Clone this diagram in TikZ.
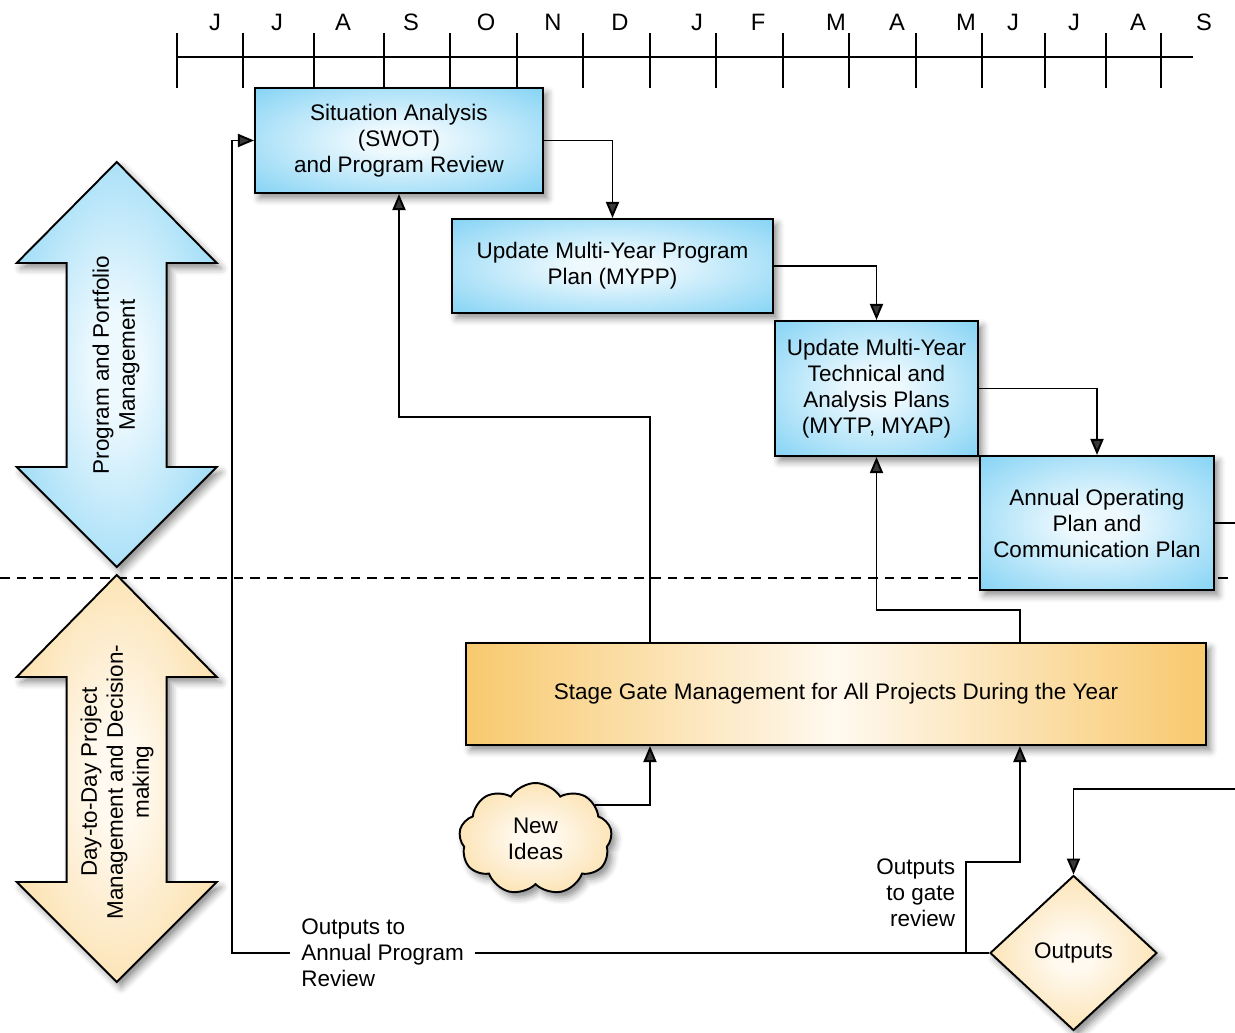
\documentclass[tikz,border=0pt]{standalone}
\usepackage{fontspec}
\setmainfont{Liberation Sans}
\usetikzlibrary{shapes.geometric,shapes.symbols,arrows.meta,positioning,shadows.blur}
\definecolor{pmblue}{HTML}{52C1F0}
\definecolor{pmpale}{HTML}{EEF9FE}
\definecolor{pmorange}{HTML}{F8C96E}
\definecolor{pmcream}{HTML}{FFF9EF}
\pgfdeclareradialshading{blueglow}{\pgfpoint{0bp}{0bp}}{color(0bp)=(pmpale); color(6bp)=(pmpale); color(50bp)=(pmblue)}
\pgfdeclareradialshading{orangeglow}{\pgfpoint{0bp}{0bp}}{color(0bp)=(pmcream); color(6bp)=(pmcream); color(50bp)=(pmorange)}

\begin{document}
\begin{tikzpicture}[
  x=0.02cm, y=-0.02cm,
  shade/.style={blur shadow={shadow xshift=2.5pt, shadow yshift=-3pt, shadow blur radius=4pt, shadow opacity=45}},
  planbox/.style={shade, draw=black, line width=1.2pt, shading=blueglow, align=center,
                  inner sep=2pt, font={\fontsize{12.8}{14.8}\selectfont}},
  gatebox/.style={shade, draw=black, line width=1.2pt, left color=pmorange, right color=pmorange,
                  middle color=pmcream, align=center, font={\fontsize{12.8}{14.8}\selectfont}},
  idea/.style={shade, cloud, cloud puffs=9, cloud puff arc=115, cloud ignores aspect, draw=black,
               line width=1.1pt, shading=orangeglow, align=center, font={\fontsize{12.8}{14.8}\selectfont}},
  outbox/.style={shade, diamond, draw=black, line width=1.1pt, shading=orangeglow, inner sep=0pt,
                 font={\fontsize{12.8}{14.8}\selectfont}},
  bigarrow/.style={shade, draw=black, line width=1.1pt},
  lbl/.style={inner sep=2pt, font={\fontsize{12.8}{14.8}\selectfont}},
  month/.style={inner sep=0pt, font={\fontsize{13.5}{15}\selectfont}},
  line/.style={line width=1.1pt},
  arr/.style={line, -{Triangle[length=0.32cm, width=0.26cm]}},
  divider/.style={line width=1pt, dash pattern=on 5.5pt off 4pt}
]
\useasboundingbox (0,0) rectangle (1235,1033);

% --- timeline ---
\draw[line] (177,57) -- (1193,57);
\foreach \x in {177,243,314,384,450,517,583,650,716,783,849,916,982,1045,1106,1161}
  \draw[line] (\x,33) -- (\x,88);
\foreach \x/\m [count=\i] in {215/J,277/J,343/A,411/S,486/O,553/N,620/D,697/J,758/F,836/M,897/A,966/M,1013/J,1074/J,1138/A,1204/S}
  \node[month] (m\i) at (\x,22) {\m};

% --- divider ---
\draw[divider] (0,578) -- (1235,578);

% --- side arrows ---
\path[bigarrow, shading=blueglow] (116.7,162) -- (216.7,263) -- (166.7,263) -- (166.7,467) -- (216.7,467)
  -- (116.7,567) -- (16.7,467) -- (66.7,467) -- (66.7,263) -- (16.7,263) -- cycle;
\node[lbl, rotate=90, align=center] (pmtext) at (116,365) {Program and Portfolio\\Management};
\path[bigarrow, shading=orangeglow] (116.7,575) -- (216.7,677) -- (166.7,677) -- (166.7,882) -- (216.7,882)
  -- (116.7,982) -- (16.7,882) -- (66.7,882) -- (66.7,677) -- (16.7,677) -- cycle;
\node[lbl, rotate=90, align=center] (pjtext) at (117,782) {Day-to-Day Project\\Management and Decision-\\making};

% --- planning boxes ---
\node[planbox, minimum width=5.76cm, minimum height=2.1cm] (sa) at (399,140.5)
  {Situation Analysis\\(SWOT)\\and Program Review};
\node[planbox, minimum width=6.42cm, minimum height=1.88cm] (mypp) at (612.5,266)
  {Update Multi-Year Program\\Plan (MYPP)};
\node[planbox, minimum width=4.06cm, minimum height=2.7cm] (mytp) at (876.5,388.5)
  {Update Multi-Year\\Technical and\\Analysis Plans\\(MYTP, MYAP)};
\node[planbox, minimum width=4.68cm, minimum height=2.68cm] (aop) at (1097,523)
  {Annual Operating\\Plan and\\Communication Plan};

% --- project level ---
\node[gatebox, minimum width=14.8cm, minimum height=2.04cm] (sg) at (836,694)
  {Stage Gate Management for All Projects During the Year};
\node[idea, minimum width=3.06cm, minimum height=2.24cm] (ni) at (535.5,839) {New\\Ideas};
\node[outbox, minimum width=3.34cm, minimum height=3.1cm] (outd) at (1073.5,953) {Outputs};

\node[lbl, align=left, anchor=west, inner sep=0.22cm] (apr) at (290,953)
  {Outputs to\\Annual Program\\Review};
\node[lbl, align=right, anchor=east] (gatelbl) at (959,893) {Outputs\\to gate\\review};

\coordinate (aopout) at (1235,523);
\coordinate (outin) at (1235,789);
\coordinate (gate) at ([xshift=-0.46cm]outd.west);

% --- connectors ---
\draw[arr] (sa.east) -| (mypp.north);
\draw[arr] (mypp.east) -| (mytp.north);
\draw[arr] (mytp.east) -| (aop.north);
\draw[line] (aop.east) -- (aopout);
\draw[arr] (outin) -| (outd.north);
\draw[arr] ([xshift=3.7cm]sg.north west) -- ++(0,-225) -| (sa.south);
\draw[arr] ([xshift=11.1cm]sg.north west) -- ++(0,-32) -| (mytp.south);
\draw[arr] (ni.30) -| ([xshift=3.7cm]sg.south west);
\draw[arr] (gate) -- ++(0,-91) -| ([xshift=11.1cm]sg.south west);
\draw[line] (outd.west) -- (apr.east);
\draw[arr] (apr.west) -- ++(-58,0) |- (sa.west);
\end{tikzpicture}
\end{document}
